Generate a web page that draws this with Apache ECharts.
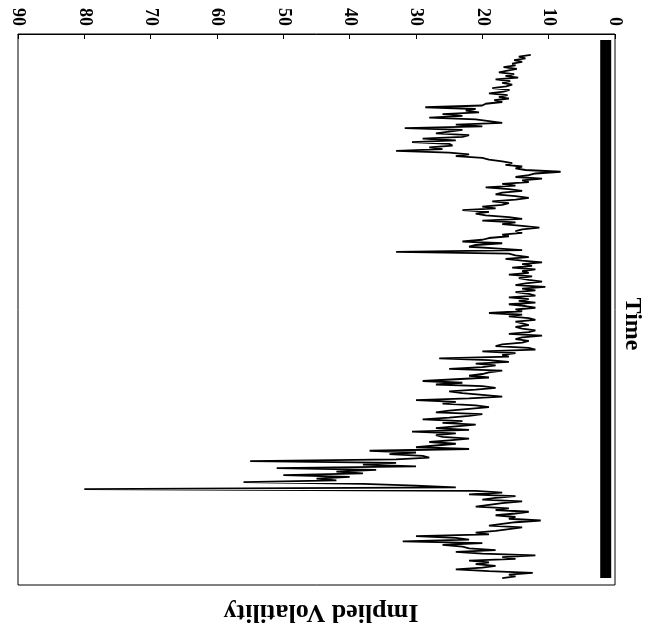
<!DOCTYPE html>
<html><head><meta charset="utf-8">
<script src="https://cdn.jsdelivr.net/npm/echarts@6/dist/echarts.min.js"></script>
<style>html,body{margin:0;padding:0;background:#fff}#c{width:647px;height:640px}</style>
</head><body><div id="c"></div>
<script>
// Implied volatility values, in time order (top of the rotated chart = first)
const volatility = [
  12.7,14.5,13.5,15.2,14,15.5,
  15,16.8,14.8,16.2,17.5,15.2,16.5,14.6,18,15.8,17,15.5,16.4,18.5,15.9,16.8,19,16.2,17.5,16,18.2,17,19.5,
  20,28.6,21,22.5,20.5,26,23,28,21,19,17,24,20,31.7,23,25,27,22,23,29,
  24,30.6,25,24.5,28,26,33,25,22,24,20,19,17,
  15.5,16.5,14,15,13.5,8.2,12,13,15,11,14,13,17,15,19.5,16,14,17,18,15,13,
  15,18.5,16,17,20,18,23,19,21,19.5,16,14,20,15,17,14,11.4,14,15,14,17,16,19,
  20,23,17,21,22,18,14,
  33,16,
  15,13,16.5,14,11,14,12.5,15.5,12,14,13,16,12.5,14.5,13,11,13.5,15,10.5,14,12,15,13,12,16,13,14.5,12,16,13.5,12,15,14,19,14,16,13,12,15,14,13,15,14,12,13,16,11,14,15,13,
  14,17,18,13,12,20,15,17,16,26.5,19,
  16,21,18,20,25,17,19,20,22,19,24,29,23,27,20,18,21,25,23,20,17,22,30,24,26,21,19,22,25,27,20,22,25,29,23,26,21,24,27,22,30.6,24,27,26,22,25,
  28,24,27,30,22,37,30,34,29,28,33,55,33,38,30,51,36,42,38,50,40,45,42,56,38,30,24,
  80,21,
  17,22,15,18,20,14,17,19,21,16,18,13,15,18,15,16,11.2,15,17,19,14,16,18,21,19,30,24,22,32,20,26,23,22,18,24,20,12,17,15,22,19,21,18,20,24,19,12.4,16,15,17
];
const valueTicks = [0,10,20,30,40,50,60,70,80,90];
const baseValue = 1.4;           // heavy baseline bar near zero
const baseSpan = [-8.6, volatility.length - 1];
const xTitle = 'Time';
const yTitle = 'Implied Volatility';

const lineData = volatility.map((v, i) => [v, i]);
const baseData = baseSpan.map(t => [baseValue, t]);

const chart = echarts.init(document.getElementById('c'), null, {renderer: 'canvas'});
const serif = '"Liberation Serif","DejaVu Serif",serif';
chart.setOption({
  animation: false,
  grid: {left: 18, right: 32, top: 34, bottom: 55, show: true, borderColor: '#000', borderWidth: 1, backgroundColor: 'transparent'},
  xAxis: {
    type: 'value', position: 'top', inverse: true,
    min: valueTicks[0], max: valueTicks[valueTicks.length-1], interval: 10,
    axisLine: {show: true, onZero: false, lineStyle: {color: '#000', width: 1}},
    axisTick: {show: true, inside: true, length: 5, lineStyle: {color: '#000'}},
    splitLine: {show: false},
    axisLabel: {rotate: 90, color: '#000', fontFamily: serif, fontSize: 18, fontWeight: 'bold', margin: 8}
  },
  yAxis: {
    type: 'value', inverse: true, min: -12, max: 304,
    axisLine: {show: false, onZero: false}, axisTick: {show: false}, axisLabel: {show: false}, splitLine: {show: false}
  },
  series: [
    {type: 'line', data: lineData, showSymbol: false, symbol: 'none',
     lineStyle: {color: '#000', width: 1.8}, z: 3},
    {type: 'line', data: baseData, showSymbol: false, symbol: 'none',
     lineStyle: {color: '#000', width: 11, cap: 'butt'}, z: 2}
  ],
  graphic: [
    {type: 'text', x: 321, y: 612, rotation: Math.PI, style: {text: yTitle, font: 'bold 26px ' + serif, fill: '#000', align: 'center', verticalAlign: 'middle'}},
    {type: 'text', x: 632, y: 324, rotation: -Math.PI/2, style: {text: xTitle, font: 'bold 24px ' + serif, fill: '#000', align: 'center', verticalAlign: 'middle'}}
  ]
});
</script></body></html>
